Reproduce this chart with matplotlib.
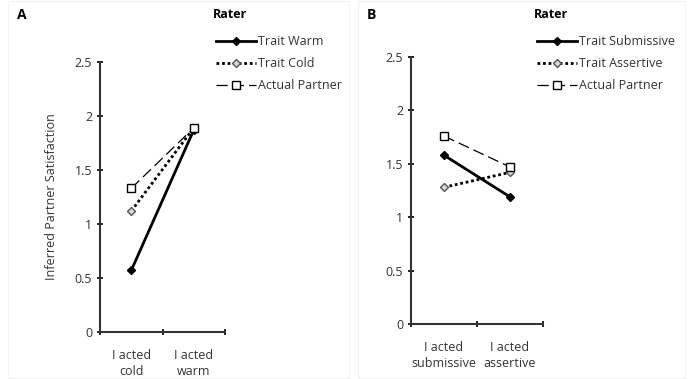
import matplotlib.pyplot as plt
from matplotlib.patches import Rectangle

plt.rcParams["font.family"] = ["Open Sans", "DejaVu Sans"]

# panel A
cats_a = ["I acted\ncold", "I acted\nwarm"]
warm_a = [0.57, 1.87]
cold_a = [1.12, 1.89]
partner_a = [1.33, 1.89]
labels_a = ["Trait Warm", "Trait Cold", "Actual Partner"]

# panel B
cats_b = ["I acted\nsubmissive", "I acted\nassertive"]
subm_b = [1.58, 1.19]
assert_b = [1.28, 1.42]
partner_b = [1.76, 1.47]
labels_b = ["Trait Submissive", "Trait Assertive", "Actual Partner"]

yticks = [0, 0.5, 1, 1.5, 2, 2.5]
ytick_labels = ["0", "0.5", "1", "1.5", "2", "2.5"]

fig = plt.figure(figsize=(6.91, 3.79), dpi=100)

# faint panel frames
fig.patches.append(Rectangle((8 / 691, 0.003), 341 / 691, 0.994, transform=fig.transFigure,
                             fill=False, edgecolor="#f3f3f3", lw=0.8))
fig.patches.append(Rectangle((358 / 691, 0.003), 327 / 691, 0.994, transform=fig.transFigure,
                             fill=False, edgecolor="#f3f3f3", lw=0.8))


def panel(rect, cats, s1, s2, s3, labels, letter, letter_x, leg_x, ylabel=None):
    ax = fig.add_axes(rect)
    x = [0.5, 1.5]
    l1, = ax.plot(x, s1, color="black", lw=2, marker="D", ms=4,
                  mfc="black", mec="black")
    l2, = ax.plot(x, s2, color="black", lw=2, ls=(0, (1, 1)), marker="D", ms=4,
                  mfc="#d8d8d8", mec="#555555")
    l3, = ax.plot(x, s3, color="black", lw=0.9, ls=(0, (9, 4)), marker="s", ms=6,
                  mfc="white", mec="black")
    ax.set_xlim(0, 2)
    ax.set_ylim(0, 2.5)
    ax.set_yticks(yticks)
    ax.set_yticklabels(ytick_labels, fontsize=9, color="#333333")
    ax.set_xticks([0, 1, 2])
    ax.set_xticklabels([])
    ax.set_xticks(x, minor=True)
    ax.set_xticklabels(cats, minor=True, fontsize=9, color="#333333", linespacing=1.3)
    ax.tick_params(axis="x", which="minor", length=0, pad=12)
    ax.tick_params(axis="both", which="major", length=4, width=1.2, direction="inout")
    for side in ["top", "right"]:
        ax.spines[side].set_visible(False)
    for side in ["left", "bottom"]:
        ax.spines[side].set_linewidth(1.5)
        ax.spines[side].set_color("#333333")
    if ylabel:
        ax.set_ylabel(ylabel, fontsize=9, color="#333333", labelpad=12)
    fig.text(letter_x, 1 - 15 / 379, letter, fontsize=10, fontweight="bold", va="center")
    fig.text(leg_x, 1 - 14 / 379, "Rater", fontsize=9, fontweight="bold", va="center")
    leg = fig.legend([l1, l2, l3], labels, loc="upper left",
                     bbox_to_anchor=(leg_x - 0.012, 1 - 24 / 379), frameon=False,
                     fontsize=9, handlelength=3.2, handletextpad=0.15, labelspacing=0.72)
    for t in leg.get_texts():
        t.set_color("#333333")
    return ax


panel([100 / 691, 1 - 332 / 379, 125 / 691, 270 / 379], cats_a, warm_a, cold_a, partner_a,
      labels_a, "A", 17 / 691, 213 / 691, ylabel="Inferred Partner Satisfaction")
panel([411 / 691, 1 - 324 / 379, 132 / 691, 267 / 379], cats_b, subm_b, assert_b, partner_b,
      labels_b, "B", 367 / 691, 534 / 691)

fig.savefig("out.png", dpi=100)
